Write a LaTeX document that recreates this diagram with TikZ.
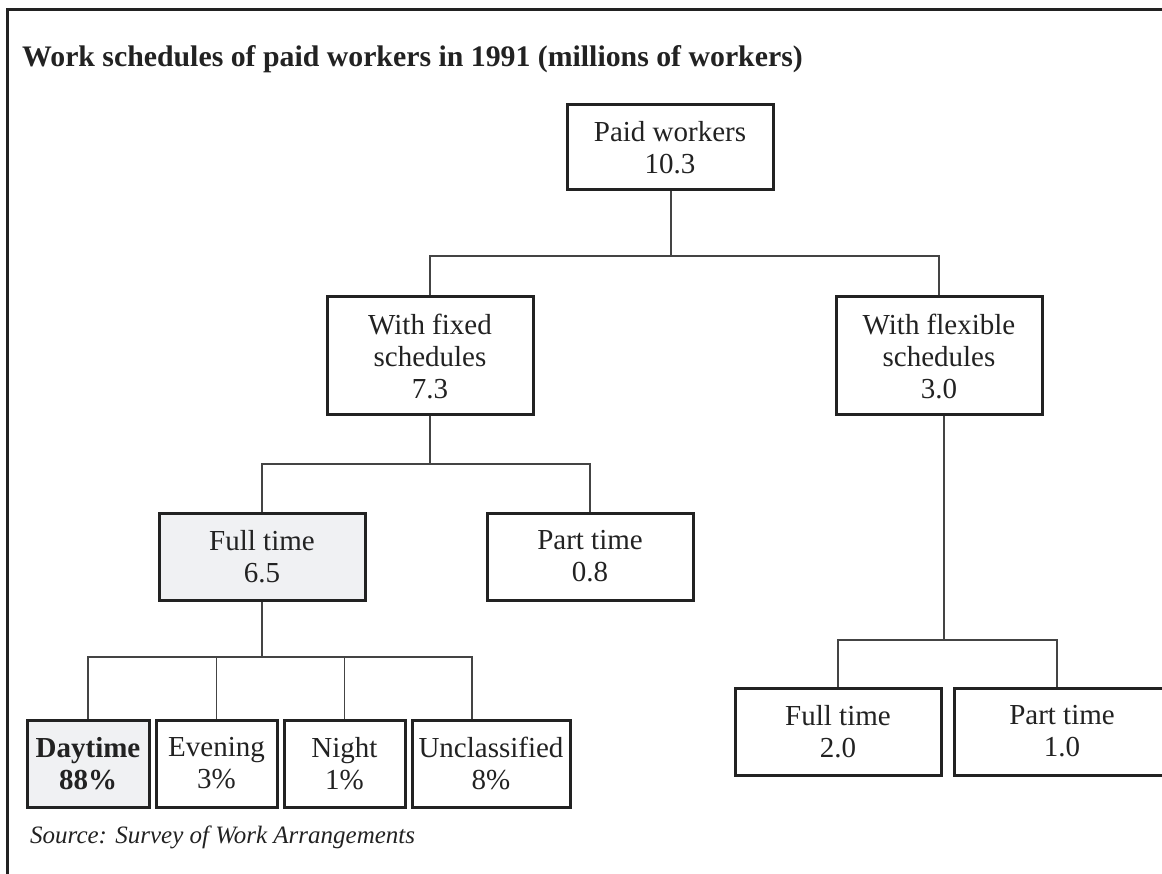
\documentclass[tikz,border=0pt]{standalone}
\usepackage{fontspec}
\setmainfont{Liberation Serif}
\usetikzlibrary{calc}
\definecolor{ink}{HTML}{222222}
\definecolor{conn}{HTML}{444444}
\definecolor{shade}{HTML}{F0F1F3}
\begin{document}
\begin{tikzpicture}[x=1pt,y=-1pt,
  box/.style={draw=ink, line width=3pt, fill=white, inner sep=0pt, align=center, text=ink,
    font=\fontsize{29}{32}\selectfont},
  shadedbox/.style={box, fill=shade},
  link/.style={draw=conn, line width=1.5pt},
  frameline/.style={draw=ink, line width=3pt},
  label/.style={text=ink, inner sep=0pt}]
\useasboundingbox (0,0) rectangle (1162,874);
\clip (0,0) rectangle (1162,874);
\draw[frameline] (7,876) -- (7,10) -- (1164,10);

\node[label, anchor=base west, font=\fontsize{29.8}{32}\selectfont\bfseries] (title) at (22,67)
  {Work schedules of paid workers in 1991 (millions of workers)};

% nodes
\node[box, minimum width=206, minimum height=85] (paid) at (670,147.5) {Paid workers\\10.3};
\node[box, minimum width=206, minimum height=118] (fixed) at (430,356) {With fixed\\schedules\\7.3};
\node[box, minimum width=206, minimum height=118] (flex) at (939,356) {With flexible\\schedules\\3.0};
\node[shadedbox, minimum width=206, minimum height=87] (ftime) at (262,556.5) {Full time\\6.5};
\node[box, minimum width=206, minimum height=87] (ptime) at (590,556.5) {Part time\\0.8};
\node[shadedbox, minimum width=122, minimum height=87] (day) at (88,763.5) {\bfseries Daytime\\\bfseries 88\%};
\node[box, minimum width=121, minimum height=87] (eve) at (216.5,763.5) {Evening\\3\%};
\node[box, minimum width=121, minimum height=87] (night) at (344.5,763.5) {Night\\1\%};
\node[box, minimum width=158, minimum height=87] (uncl) at (491,763.5) {Unclassified\\8\%};
\node[box, minimum width=206, minimum height=87] (ffull) at (838,731.5) {Full time\\2.0};
\node[box, minimum width=216, minimum height=87] (fpart) at (1062,731.5) {Part time\\1.0};

\node[label, anchor=base west, font=\fontsize{25}{28}\selectfont\itshape] (src) at (30,843)
  {Source: Survey of Work Arrangements};

% junctions
\coordinate (j1) at (671,256);
\coordinate (j2) at (430,464);
\coordinate (j3) at (262,657);
\coordinate (u3) at (472,657);
\coordinate (j4) at (944,640);
\coordinate (f4) at (1057,640);

% connectors
\draw[link] (paid.south -| j1) -- (j1);
\draw[link] (fixed.north) |- (j1) -| (flex.north);
\draw[link] (fixed.south) -- (j2);
\draw[link] (ftime.north) |- (j2) -| (ptime.north);
\draw[link] (ftime.south) -- (j3);
\draw[link] (day.north) |- (u3) -- (u3 |- uncl.north);
\draw[link] (eve.north) -- (eve.north |- j3);
\draw[link] (night.north) -- (night.north |- j3);
\draw[link] (flex.south -| j4) -- (j4);
\draw[link] (ffull.north) |- (f4) -- (f4 |- fpart.north);
\end{tikzpicture}
\end{document}
